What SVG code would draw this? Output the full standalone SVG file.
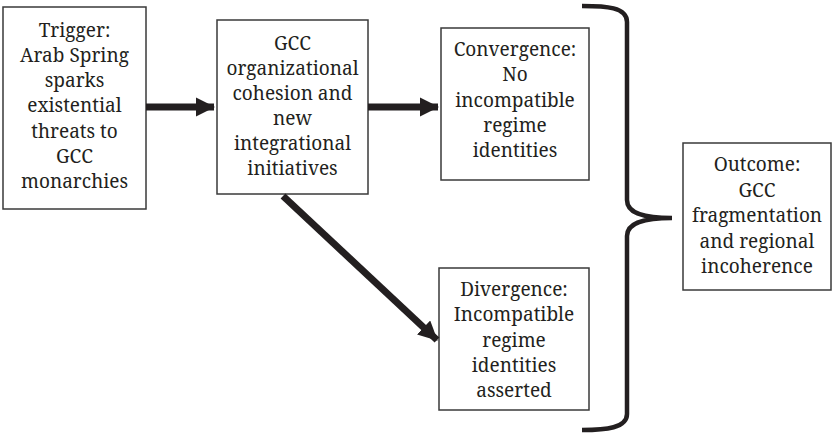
<svg xmlns="http://www.w3.org/2000/svg" width="832" height="435" viewBox="0 0 832 435">
<defs>
<marker id="ah" viewBox="0 0 10 10" refX="9.5" refY="5" markerWidth="2.75" markerHeight="2.75" orient="auto" markerUnits="strokeWidth">
<path d="M0,0 L10,5 L0,10 z" fill="#231f20"/>
</marker>
<style>
.box{fill:#fff;stroke:#3a3a3a;stroke-width:1.5}
.t{font-family:'Noto Serif','DejaVu Serif',serif;font-size:19px;fill:#231f20;text-anchor:middle}
.c{stroke:#231f20;stroke-width:7;fill:none}
</style>
</defs>
<rect width="832" height="435" fill="#fff"/>
<g id="trigger">
<rect class="box" x="3" y="7" width="143" height="202"/>
<text class="t"><tspan x="74.5" y="36.5">Trigger:</tspan><tspan x="74.5" y="61.8">Arab Spring</tspan><tspan x="74.5" y="87">sparks</tspan><tspan x="74.5" y="112.3">existential</tspan><tspan x="74.5" y="137.5">threats to</tspan><tspan x="74.5" y="162.8">GCC</tspan><tspan x="74.5" y="188">monarchies</tspan></text>
</g>
<g id="cohesion">
<rect class="box" x="217" y="20" width="151" height="174"/>
<text class="t"><tspan x="292.5" y="50">GCC</tspan><tspan x="292.5" y="75">organizational</tspan><tspan x="292.5" y="100">cohesion and</tspan><tspan x="292.5" y="125">new</tspan><tspan x="292.5" y="150">integrational</tspan><tspan x="292.5" y="175">initiatives</tspan></text>
</g>
<g id="convergence">
<rect class="box" x="441" y="28" width="148" height="152"/>
<text class="t"><tspan x="515" y="56">Convergence:</tspan><tspan x="515" y="81.3">No</tspan><tspan x="515" y="106.5">incompatible</tspan><tspan x="515" y="131.8">regime</tspan><tspan x="515" y="157">identities</tspan></text>
</g>
<g id="divergence">
<rect class="box" x="439" y="268" width="150" height="142"/>
<text class="t"><tspan x="514" y="296">Divergence:</tspan><tspan x="514" y="321.3">Incompatible</tspan><tspan x="514" y="346.5">regime</tspan><tspan x="514" y="371.8">identities</tspan><tspan x="514" y="397">asserted</tspan></text>
</g>
<g id="outcome">
<rect class="box" x="683" y="143" width="148" height="147"/>
<text class="t"><tspan x="757" y="171">Outcome:</tspan><tspan x="757" y="196.5">GCC</tspan><tspan x="757" y="222">fragmentation</tspan><tspan x="757" y="247.5">and regional</tspan><tspan x="757" y="273">incoherence</tspan></text>
</g>
<g id="connectors">
<line class="c" x1="146" y1="107" x2="214" y2="107" marker-end="url(#ah)"/>
<line class="c" x1="368" y1="107" x2="438" y2="107" marker-end="url(#ah)"/>
<line class="c" x1="283" y1="196" x2="437" y2="340" marker-end="url(#ah)"/>
<path d="M582,6 C606,6 627,7 627,22 L627,200 C627,212 640,218 672,218 C640,218 627,224 627,236 L627,414 C627,428 606,430 582,430" fill="none" stroke="#231f20" stroke-width="4.5"/>
</g>
</svg>
